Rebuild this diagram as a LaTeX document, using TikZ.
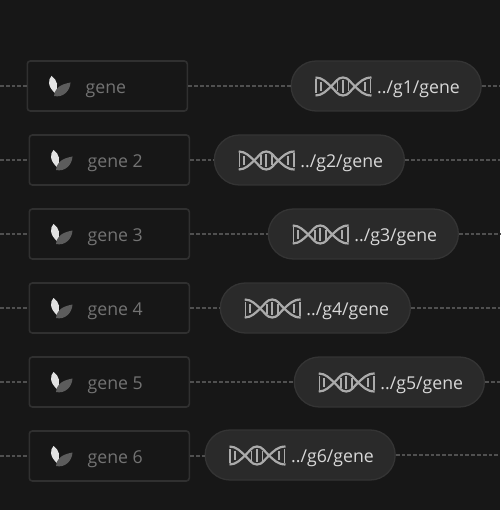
\documentclass[tikz,border=0pt]{standalone}
\usepackage{fontspec}
\usetikzlibrary{calc}
\setmainfont{Open Sans}
\definecolor{bgc}{HTML}{171717}
\definecolor{boxline}{HTML}{303030}
\definecolor{pillfill}{HTML}{2A2A2A}
\definecolor{pillline}{HTML}{343434}
\definecolor{dashc}{HTML}{505050}
\definecolor{boxtext}{HTML}{737373}
\definecolor{pilltext}{HTML}{D8D8D8}
\definecolor{dnac}{HTML}{ABABAB}
\definecolor{leafa}{HTML}{E2E2E2}
\definecolor{leafb}{HTML}{5C5C5C}
\tikzset{
  genebox/.style={draw=boxline,line width=1.6pt,rounded corners=3pt,minimum width=160pt,minimum height=50pt,inner sep=0pt,anchor=west},
  pillbox/.style={draw=pillline,fill=pillfill,line width=1.3pt,rounded corners=25pt,minimum width=190pt,minimum height=50pt,inner sep=0pt,anchor=west},
  link/.style={draw=dashc,line width=1.7pt,dash pattern=on 3.8pt off 2pt},
  boxlabel/.style={text=boxtext,font=\fontsize{17.7}{19}\selectfont,anchor=base west,inner sep=0pt},
  pilllabel/.style={text=pilltext,font=\fontsize{17.7}{19}\selectfont,anchor=base west,inner sep=0pt},
  strand/.style={draw=dnac,line width=2.2pt},
  rung/.style={draw=dnac,line width=1.8pt},
  pics/leaves/.style={code={
    \fill[leafa] (-2.5,-10) .. controls (-6.5,-6) and (-6,1) .. (1,7) .. controls (5,1) and (3.5,-6) .. (-2.5,-10) -- cycle;
    \fill[leafb] (0,10) .. controls (1,2) and (6,-1.5) .. (16.5,-3.5) .. controls (16,5) and (9,12) .. (0,10) -- cycle;
  }},
  pics/dna/.style={code={
    \draw[strand] (0,-9) .. controls (7,-9) and (11,-4) .. (15.5,0) .. controls (20,4) and (22,9) .. (27.5,9) .. controls (33,9) and (35,4) .. (39.5,0) .. controls (44,-4) and (48,-9) .. (56,-9);
    \draw[strand] (0,9) .. controls (7,9) and (11,4) .. (15.5,0) .. controls (20,-4) and (22,-9) .. (27.5,-9) .. controls (33,-9) and (35,-4) .. (39.5,0) .. controls (44,4) and (48,9) .. (56,9);
    \foreach \rx/\rh in {0.7/7,5.5/4.5,22/5,27.5/6.5,33/5,49.5/4.5,55/7}
      \draw[rung] (\rx,-\rh) -- (\rx,\rh);
  }}
}
\begin{document}
\begin{tikzpicture}[x=1pt,y=-1pt]
\useasboundingbox[fill=bgc] (0,0) rectangle (500,510);
\foreach \idx/\bx/\cy/\px/\py/\gname/\gpath in {
  1/26.5/86/290.5/86/gene/g1,
  2/28.5/160/213.7/160/gene 2/g2,
  3/28.5/234/267.7/234/gene 3/g3,
  4/28.5/308/219.7/308/gene 4/g4,
  5/28.5/382/293.7/382/gene 5/g5,
  6/28.5/456/204.5/455/gene 6/g6}{
  \node[genebox] (b\idx) at (\bx,\cy) {};
  \node[pillbox] (p\idx) at (\px,\py) {};
  \coordinate (l\idx) at (0,\cy);
  \coordinate (r\idx) at (500,\py);
  \draw[link] (l\idx) -- (b\idx.west);
  \draw[link] (b\idx.east) -- (p\idx.west |- b\idx.east);
  \draw[link] (p\idx.east) -- (r\idx);
  \pic at ($(b\idx.west)+(27.5,0)$) {leaves};
  \node[boxlabel] (t\idx) at ($(b\idx.west)+(59,7.2)$) {\gname};
  \pic at ($(p\idx.west)+(25,0.5)$) {dna};
  \node[pilllabel] (u\idx) at ($(p\idx.west)+(86.5,7.5)$) {../\gpath/gene};
}
\end{tikzpicture}
\end{document}
